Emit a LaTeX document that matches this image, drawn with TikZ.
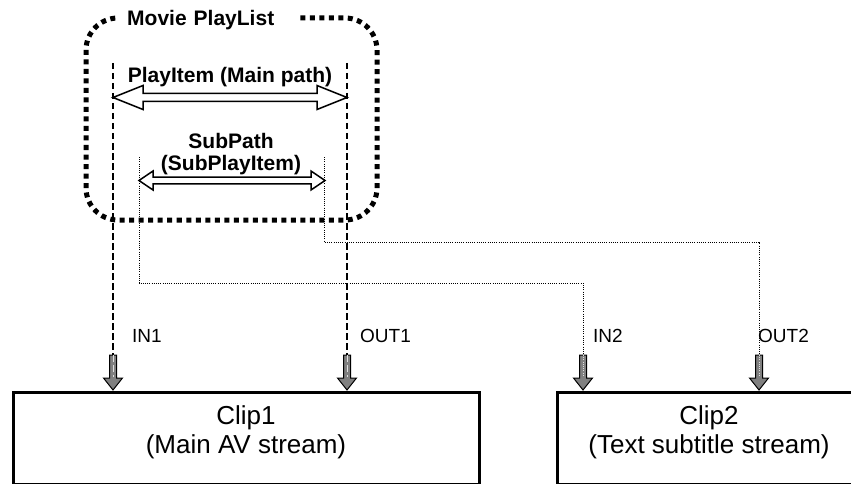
\documentclass[tikz,border=0pt]{standalone}
\usepackage{fontspec}
\setmainfont{Liberation Sans}
\begin{document}
\begin{tikzpicture}[x=1pt,y=-1pt,
  lbl/.style={font=\fontsize{19}{21}\selectfont, anchor=base west, inner sep=0pt},
  hdr/.style={font=\bfseries\fontsize{21}{22}\selectfont, align=center, inner sep=0pt},
  cliptxt/.style={font=\fontsize{26}{29}\selectfont, align=center, inner sep=0pt},
  clipbox/.style={draw, line width=3pt, inner sep=0pt},
  mainline/.style={line width=1.3pt, dash pattern=on 6.5pt off 3.5pt},
  subline/.style={line width=1pt, dash pattern=on 1pt off 1.2pt},
  hollow/.style={draw, line width=1.5pt, fill=white, line join=miter},
  blockarrow/.style={draw, fill=gray, line width=1pt, line join=miter},
  plborder/.style={line width=5pt, dash pattern=on 5pt off 4.5pt, rounded corners=32pt},
  downarr/.pic={\path[blockarrow] (-3.5,0) -- (3.5,0) -- (3.5,23) -- (9.5,23) -- (0,35) -- (-9.5,23) -- (-3.5,23) -- cycle;}
]
\useasboundingbox (0,0) rectangle (851,484);
\clip (0,0) rectangle (851,484);

% Movie PlayList border
\draw[plborder] (86,18) rectangle (377,220);
\node (title) [fill=white, anchor=west, inner xsep=0pt, inner ysep=3pt, text width=181pt, align=left,
  font=\bfseries\fontsize{21}{22}\selectfont] at (117,20) {\hspace{10pt}Movie PlayList};

% clip boxes
\node (clip1) [clipbox, minimum width=466pt, minimum height=92.5pt] at (246,438.25) {};
\node (clip2) [clipbox, minimum width=304pt, minimum height=92.5pt] at (709,438.25) {};
\node (clip1txt) [cliptxt] at (246,432.7) {Clip1\\(Main AV stream)};
\node (clip2txt) [cliptxt] at (709,432.7) {Clip2\\(Text subtitle stream)};

% coordinates
\coordinate (m1top) at (113,63);
\coordinate (m2top) at (347,63);
\coordinate (s1top) at (139,157);
\coordinate (s2top) at (324,157);
\coordinate (a1) at (113,355);
\coordinate (a2) at (347,355);
\coordinate (a3) at (583,355);
\coordinate (a4) at (759,355);

% connectors
\draw[mainline] (m1top) -- (a1);
\draw[mainline] (m2top) -- (a2);
\draw[subline] (s1top) -- (139,283) -- (583,283) -- (a3);
\draw[subline] (s2top) -- (324,242) -- (759,242) -- (a4);

% block arrows
\pic at (a1) {downarr};
\pic at (a2) {downarr};
\pic at (a3) {downarr};
\pic at (a4) {downarr};
\draw[mainline, gray!25, line width=1pt] (a1) -- ++(0,22);
\draw[mainline, gray!25, line width=1pt] (a2) -- ++(0,22);
\draw[subline, gray!25] (a3) -- ++(0,22);
\draw[subline, gray!25] (a4) -- ++(0,22);

% hollow double arrows
\path[hollow] (113,97.5) -- (143,85.5) -- (143,93.5) -- (317,93.5) -- (317,85.5) -- (347,97.5)
  -- (317,109.5) -- (317,101.5) -- (143,101.5) -- (143,109.5) -- cycle;
\path[hollow] (139,180.5) -- (153,171) -- (153,177.2) -- (311,177.2) -- (311,171) -- (325,180.5)
  -- (311,190) -- (311,183.8) -- (153,183.8) -- (153,190) -- cycle;

% labels
\node (mainlbl) [hdr, anchor=base] at (230,83) {PlayItem (Main path)};
\node (sublbl) [hdr] at (231,153.6) {SubPath\\(SubPlayItem)};
\node (in1) [lbl] at (132,342) {IN1};
\node (out1) [lbl] at (360,342) {OUT1};
\node (in2) [lbl] at (593,342) {IN2};
\node (out2) [lbl] at (758,342) {OUT2};
\end{tikzpicture}
\end{document}
